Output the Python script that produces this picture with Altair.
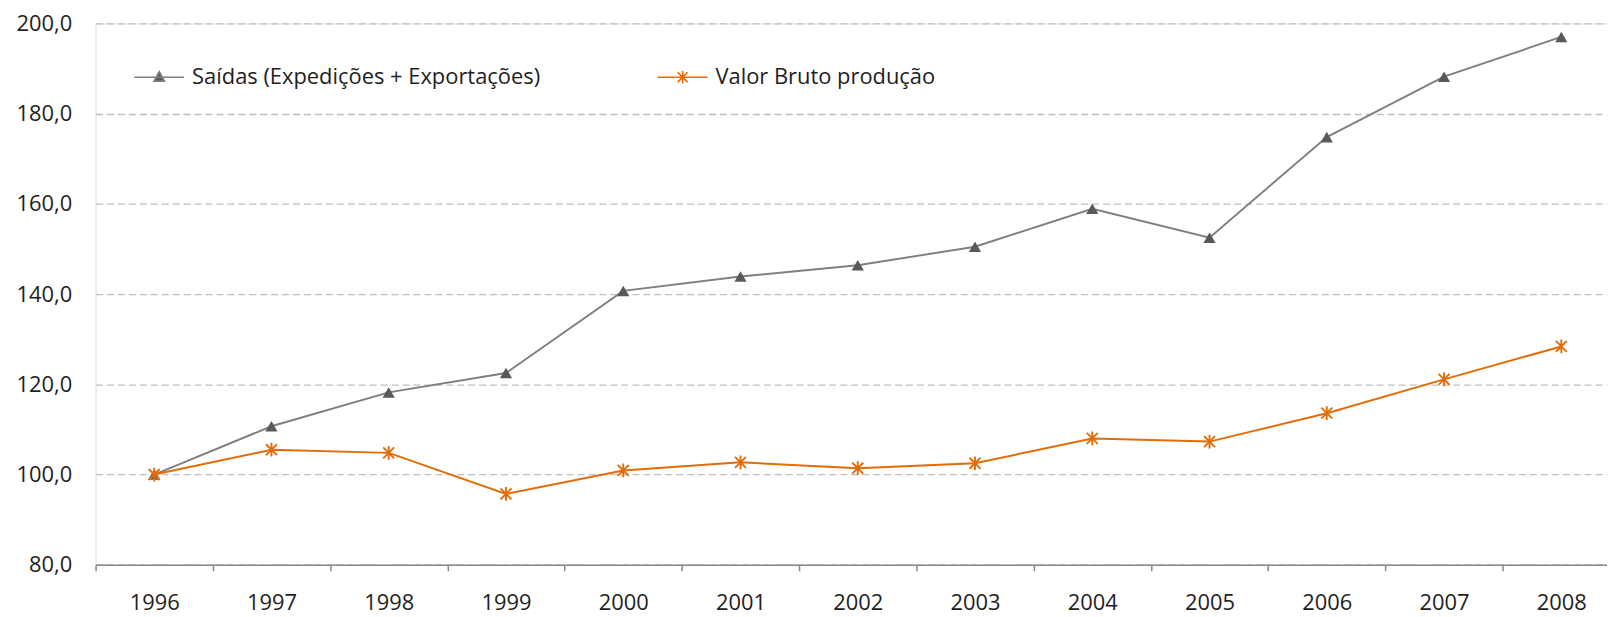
import altair as alt
import pandas as pd

anos = ["1996", "1997", "1998", "1999", "2000", "2001", "2002",
        "2003", "2004", "2005", "2006", "2007", "2008"]
serie_nomes = ["Saídas (Expedições + Exportações)", "Valor Bruto produção"]
saidas = [100.0, 110.7, 118.2, 122.5, 140.7, 143.9, 146.4,
          150.5, 158.9, 152.5, 174.8, 188.2, 197.0]
vbp = [100.0, 105.5, 104.8, 95.7, 100.9, 102.7, 101.4,
       102.5, 108.0, 107.3, 113.6, 121.1, 128.4]
y_ticks = [80, 100, 120, 140, 160, 180, 200]

cores = ["#7F7F7F", "#E36C09"]

rows = []
for a, v in zip(anos, saidas):
    rows.append({"ano": a, "serie": serie_nomes[0], "valor": v})
for a, v in zip(anos, vbp):
    rows.append({"ano": a, "serie": serie_nomes[1], "valor": v})
df = pd.DataFrame(rows)

FONT = "Open Sans"
TXT = "#1E1E1E"

x_enc = alt.X(
    "ano:O", sort=anos, title=None,
    scale=alt.Scale(type="band", paddingInner=0, paddingOuter=0, range=[0, 1532]),
    axis=alt.Axis(labelAngle=0, labelFont=FONT, labelFontSize=22, labelColor=TXT,
                  labelPadding=22, tickBand="extent", tickSize=6, tickColor="#888888",
                  tickWidth=1.5, domainColor="#888888", domainWidth=1.5, grid=False),
)
y_enc = alt.Y(
    "valor:Q", title=None,
    scale=alt.Scale(domain=[80, 200], nice=False, zero=False),
    axis=alt.Axis(values=y_ticks, labelExpr="replace(format(datum.value, '.1f'), '.', ',')",
                  labelFont=FONT, labelFontSize=22, labelColor=TXT, labelPadding=24,
                  ticks=False, domain=False, grid=True, gridColor="#BFBFBF",
                  gridDash=[7, 4], gridWidth=1.3),
)

sym_tri = "M-1,0H1M0,-0.22L0.21,0.16L-0.21,0.16Z"
sym_ast = "M-1,0H1M0,-0.25V0.25M-0.2,-0.2L0.2,0.2M-0.2,0.2L0.2,-0.2"

leg = alt.Legend(
    title=None, orient="none", legendX=38, legendY=28, direction="horizontal",
    padding=0, symbolSize=2500, labelOffset=7, columnPadding=114,
    labelFont=FONT, labelFontSize=22, labelColor=TXT, labelLimit=600,
    symbolStrokeWidth=1.6, symbolFillColor="#595959", symbolOpacity=1,
)
color_enc = alt.Color("serie:N", sort=serie_nomes,
                      scale=alt.Scale(domain=serie_nomes, range=cores), legend=leg)
shape_enc = alt.Shape("serie:N", sort=serie_nomes,
                      scale=alt.Scale(domain=serie_nomes, range=[sym_tri, sym_ast]), legend=leg)

base = alt.Chart(df).encode(x=x_enc, y=y_enc)

linha_cinza = base.transform_filter(alt.datum.serie == serie_nomes[0]).mark_line(
    strokeWidth=1.9, color=cores[0])
linha_laranja = base.transform_filter(alt.datum.serie == serie_nomes[1]).mark_line(
    strokeWidth=2.0, color=cores[1])

triangulos = base.transform_filter(alt.datum.serie == serie_nomes[0]).mark_point(
    shape="triangle-up", filled=True, size=150, color="#595959", opacity=1)

asteriscos = base.transform_filter(alt.datum.serie == serie_nomes[1]).mark_point(
    shape="M0,-1V1M-0.8,-0.8L0.8,0.8M-0.8,0.8L0.8,-0.8", filled=False, size=190,
    color="#E36C09", strokeWidth=1.9, opacity=1)

# layer used only to build the legend (no rows are drawn)
legenda = base.transform_filter("false").mark_point(
    filled=False, fill="#595959", strokeWidth=1.6, opacity=1
).encode(color=color_enc, shape=shape_enc)

chart = alt.layer(linha_cinza, triangulos, linha_laranja, asteriscos, legenda).properties(
    width=1519, height=544,
    autosize=alt.AutoSizeParams(type="none"),
    padding={"left": 88, "top": 14, "right": 0, "bottom": 51},
).configure_view(stroke=None).configure(background="white")

chart.save("out.html", embed_options={"renderer": "svg", "actions": False})
